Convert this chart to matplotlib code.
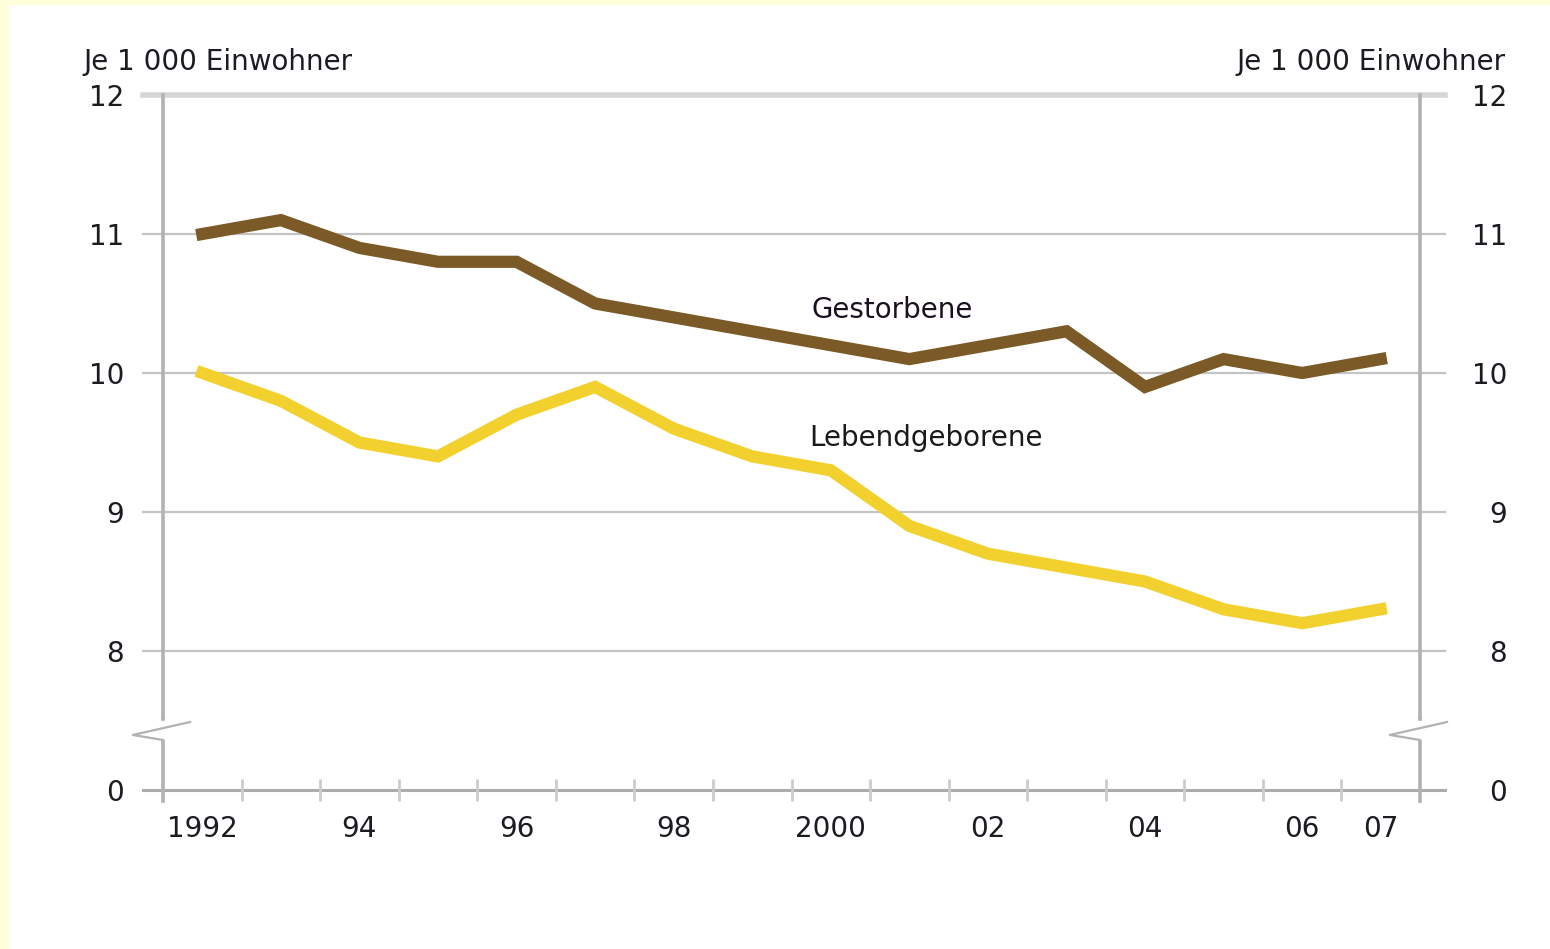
import matplotlib.pyplot as plt
from matplotlib.patches import Rectangle
import matplotlib.transforms as mtransforms

years = list(range(1992, 2008))
gestorbene = [11.0, 11.1, 10.9, 10.8, 10.8, 10.5, 10.4, 10.3, 10.2, 10.1, 10.2, 10.3, 9.9, 10.1, 10.0, 10.1]
lebendgeborene = [10.0, 9.8, 9.5, 9.4, 9.7, 9.9, 9.6, 9.4, 9.3, 8.9, 8.7, 8.6, 8.5, 8.3, 8.2, 8.3]

x_tick_years = [1992, 1994, 1996, 1998, 2000, 2002, 2004, 2006, 2007]
x_tick_labels = ["1992", "94", "96", "98", "2000", "02", "04", "06", "07"]
# value 7 on the axis stands for the broken-off 0
y_ticks = [7, 8, 9, 10, 11, 12]
y_tick_labels = ["0", "8", "9", "10", "11", "12"]
unit_label = "Je 1 000 Einwohner"

brown = "#7b5a28"
gold = "#f2d12e"
grid_c = "#c4c4c4"
text_c = "#1e1a22"
fs = 20

fig = plt.figure(figsize=(15.5, 9.49), dpi=100)
fig.patch.set_facecolor("#ffffdc")
fig.add_artist(Rectangle((9 / 1550, 0), 1, 1 - 5 / 949, transform=fig.transFigure,
                         facecolor="white", edgecolor="none", zorder=0))

ax = fig.add_axes([163 / 1550, 1 - 790 / 949, 1257 / 1550, 695 / 949])
ax.set_facecolor("none")
ax.set_xlim(1991.5, 2007.5)
ax.set_ylim(7, 12)

# grid lines run a little past both spines
for v in [8, 9, 10, 11]:
    ax.axhline(v, xmin=-0.016, xmax=1.02, color=grid_c, lw=1.6, clip_on=False, zorder=1)
ax.axhline(12, xmin=-0.016, xmax=1.02, color="#d6d6d6", lw=4, clip_on=False, zorder=1)
ax.axhline(7, xmin=-0.016, xmax=1.02, color="#ababab", lw=2.2, clip_on=False, zorder=1)

for s in ax.spines.values():
    s.set_visible(False)
blend = mtransforms.blended_transform_factory(ax.transAxes, ax.transData)
for xa in [0, 1]:
    ax.plot([xa, xa], [6.92, 12], transform=blend, color="#b2b2b2", lw=2.6,
            clip_on=False, zorder=2)

# axis break marks
for xa in [0, 1]:
    ax.add_patch(Rectangle((xa - 0.012, 7.36), 0.024, 0.15, transform=blend,
                           facecolor="white", edgecolor="none", clip_on=False, zorder=3))
    ax.plot([xa + 0.0215, xa - 0.024, xa], [7.489, 7.396, 7.36], transform=blend,
            color="#b2b2b2", lw=1.6, clip_on=False, zorder=4)
    ax.plot([xa, xa], [7.489 + 0.02, 7.52], transform=blend, color="#b2b2b2", lw=2.6,
            clip_on=False, zorder=4)

ax.plot(years, gestorbene, color=brown, lw=8.8, solid_joinstyle="miter", zorder=5)
ax.plot(years, lebendgeborene, color=gold, lw=8.8, solid_joinstyle="miter", zorder=5)

ax.set_xticks(x_tick_years, x_tick_labels)
ax.set_xticks([y + 0.5 for y in years[:-1]], minor=True)
ax.tick_params(axis="x", which="major", length=0, pad=18, labelsize=fs, labelcolor=text_c)
ax.tick_params(axis="x", which="minor", direction="inout", length=16, width=2, color="#cccccc")

ax.set_yticks(y_ticks, y_tick_labels)
ax.tick_params(axis="y", length=0, pad=28, labelsize=fs, labelcolor=text_c)
for v, lab in zip(y_ticks, y_tick_labels):
    ax.text(1.0694, v, lab, transform=blend, ha="right", va="center_baseline",
            fontsize=fs, color=text_c)

fig.text(83 / 1550, 1 - 62 / 949, unit_label, ha="left", va="center", fontsize=fs, color=text_c)
fig.text(1506 / 1550, 1 - 62 / 949, unit_label, ha="right", va="center", fontsize=fs, color=text_c)

ax.text(1999.76, 10.45, "Gestorbene", ha="left", va="center", fontsize=fs, color="#1a1020")
ax.text(1999.73, 9.53, "Lebendgeborene", ha="left", va="center", fontsize=fs, color="#1a1a1a")

fig.savefig("out.png", dpi=100)
